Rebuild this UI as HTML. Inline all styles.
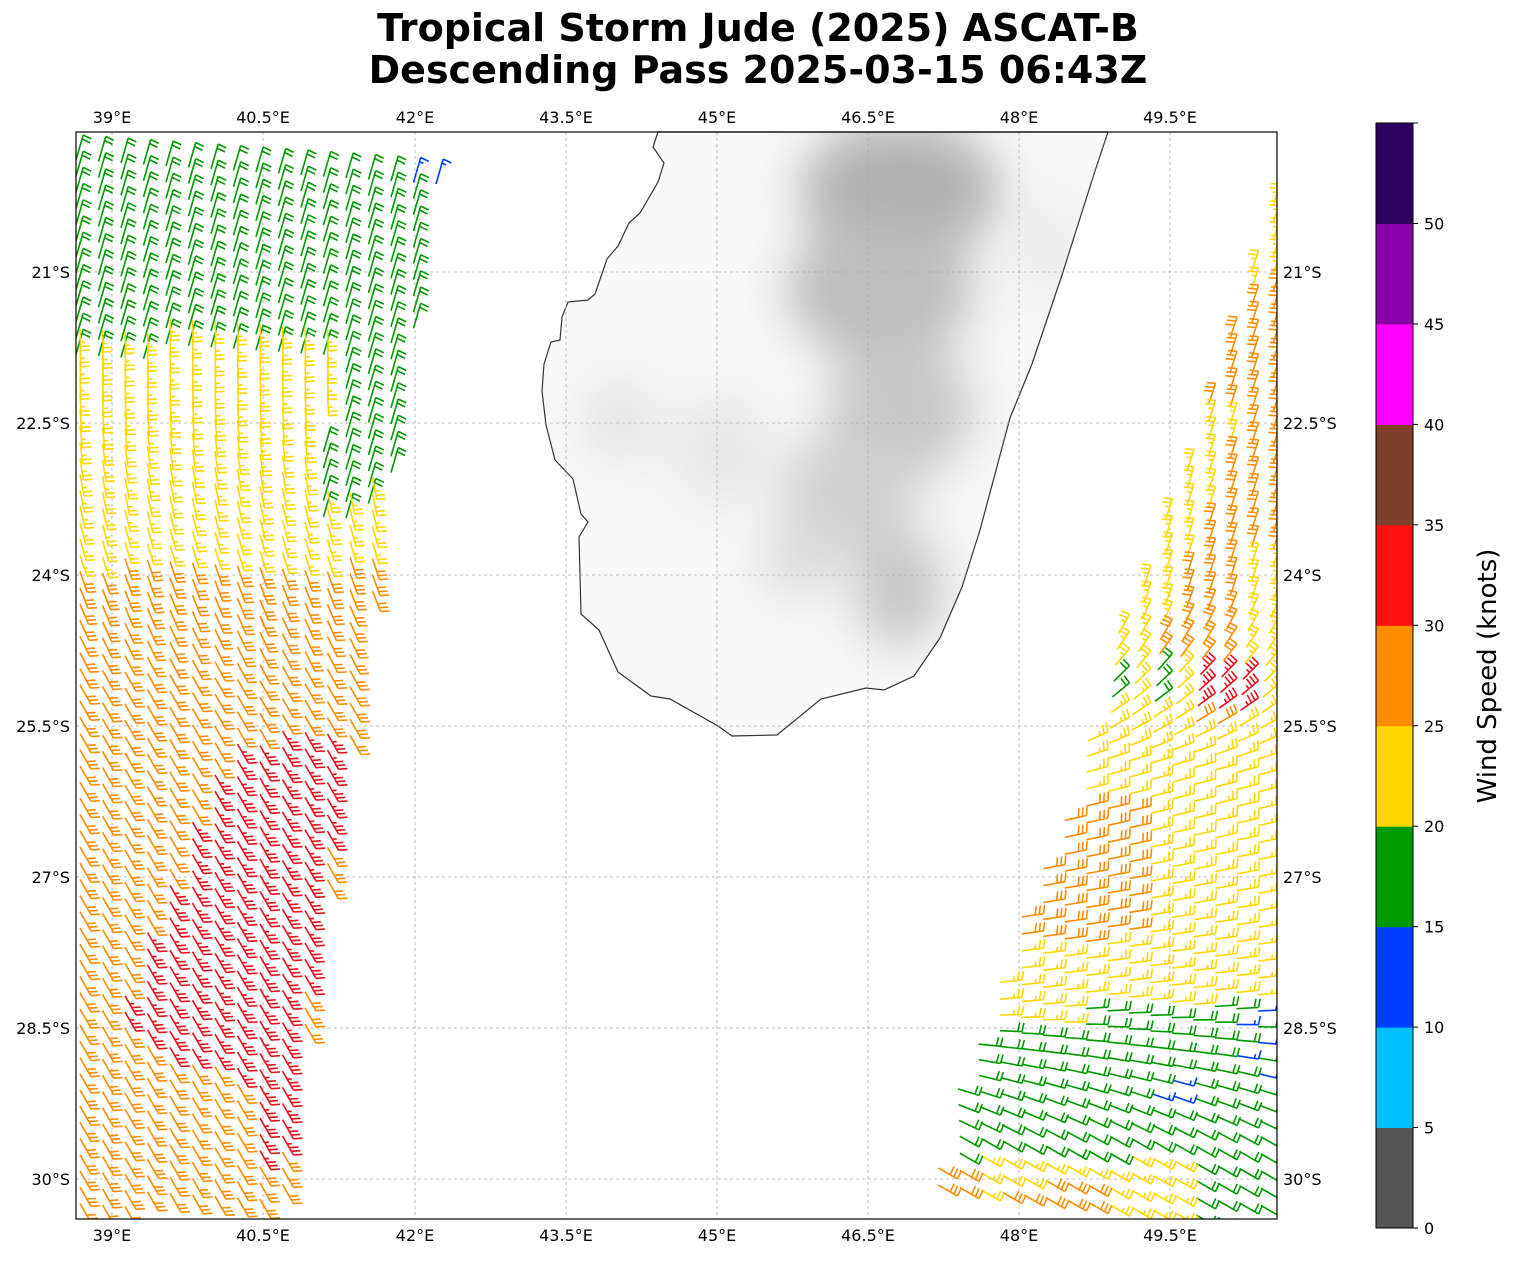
<!DOCTYPE html>
<html><head><meta charset="utf-8"><style>
html,body{margin:0;padding:0;background:#fff;}
svg text{font-family:"DejaVu Sans","Liberation Sans",sans-serif;}
</style></head><body>
<svg id="s" width="1513" height="1256" viewBox="0 0 1513 1256" xmlns="http://www.w3.org/2000/svg">
<defs>
<clipPath id="ax"><rect x="76" y="132" width="1201" height="1087"/></clipPath>
<clipPath id="mad"><path id="madp" d="M658,132 L653,147 L664,163 L658,182 L640,213 L629,223 L618,246 L607,259 L595,294 L588,300 L568,302 L562,317 L560,340 L551,342 L544,364 L542,391 L546,425 L555,460 L573,479 L581,514 L588,522 L579,537 L581,614 L599,630 L618,672 L651,696 L670,699 L718,726 L732,736 L777,735 L821,699 L866,688 L884,690 L914,676 L940,638 L962,587 L980,530 L1010,418 L1032,364 L1062,275 L1095,171 L1108,132 Z"/></clipPath>
<filter id="bl" x="-50%" y="-50%" width="200%" height="200%"><feGaussianBlur stdDeviation="25"/></filter>
</defs>
<text x="758" y="41" text-anchor="middle" font-size="38" font-weight="bold">Tropical Storm Jude (2025) ASCAT-B</text>
<text x="758" y="83" text-anchor="middle" font-size="38" font-weight="bold">Descending Pass 2025-03-15 06:43Z</text>
<g clip-path="url(#mad)">
<rect x="530" y="132" width="600" height="620" fill="#f9f9f9"/>
<g filter="url(#bl)">
<ellipse cx="900" cy="190" rx="100" ry="70" fill="#b0b0b0"/>
<ellipse cx="880" cy="290" rx="95" ry="70" fill="#bdbdbd"/>
<ellipse cx="900" cy="410" rx="75" ry="70" fill="#c8c8c8"/>
<ellipse cx="850" cy="490" rx="70" ry="60" fill="#d0d0d0"/>
<ellipse cx="900" cy="590" rx="45" ry="60" fill="#c6c6c6"/>
<ellipse cx="800" cy="560" rx="40" ry="40" fill="#dadada"/>
<ellipse cx="620" cy="420" rx="35" ry="45" fill="#e2e2e2"/>
<ellipse cx="720" cy="450" rx="50" ry="60" fill="#e6e6e6"/>
<ellipse cx="1050" cy="250" rx="40" ry="60" fill="#ececec"/>
</g>
</g>
<use href="#madp" fill="none" stroke="#333" stroke-width="1.2"/>
<g id="grid" stroke="#aaa" stroke-width="0.8" stroke-dasharray="3,3"></g>
<g id="barbs" clip-path="url(#ax)" fill="none" stroke-width="1.6" stroke-linecap="butt"></g>
<rect x="76" y="132" width="1201" height="1087" fill="none" stroke="#000" stroke-width="1.2"/>
<g id="labels" font-size="16"></g>
<g id="cb"></g>
<text transform="translate(1496,676) rotate(-90)" text-anchor="middle" font-size="26">Wind Speed (knots)</text>
</svg>
<script>
var NS="http://www.w3.org/2000/svg";
function el(p,t,a,txt){var e=document.createElementNS(NS,t);for(var k in a)e.setAttribute(k,a[k]);if(txt!=null)e.textContent=txt;p.appendChild(e);return e;}
var G=document.getElementById('grid'),L=document.getElementById('labels'),B=document.getElementById('barbs'),C=document.getElementById('cb');
var lons=[["39°E",112],["40.5°E",263],["42°E",415],["43.5°E",566],["45°E",717],["46.5°E",868],["48°E",1019],["49.5°E",1170]];
var lats=[["21°S",272],["22.5°S",423],["24°S",575],["25.5°S",726],["27°S",877],["28.5°S",1028],["30°S",1179]];
lons.forEach(function(l){el(G,'line',{x1:l[1],y1:132,x2:l[1],y2:1219});
 el(L,'text',{x:l[1],y:123,'text-anchor':'middle'},l[0]);el(L,'text',{x:l[1],y:1241,'text-anchor':'middle'},l[0]);});
lats.forEach(function(l){el(G,'line',{x1:76,y1:l[1],x2:1277,y2:l[1]});
 el(L,'text',{x:70,y:l[1]+6,'text-anchor':'end'},l[0]);el(L,'text',{x:1283,y:l[1]+6},l[0]);});
var cols=["#555555","#00bfff","#0040ff","#009900","#ffd700","#ff8c00","#ff1010","#7f3f2a","#ff00ff","#8800aa","#2b0060"];
var y0=1228,st=100.45;
for(var i=0;i<11;i++){var yt=y0-(i+1)*st;var h=st;if(i==10){yt=123;h=y0-10*st-123;}el(C,'rect',{x:1376,y:yt,width:37,height:h+0.5,fill:cols[i]});}
el(C,'rect',{x:1376,y:123,width:37,height:1105,fill:'none',stroke:'#000','stroke-width':1});
for(var i=0;i<=10;i++){var yy=y0-i*st;el(C,'line',{x1:1413,y1:yy,x2:1418,y2:yy,stroke:'#000'});el(C,'text',{x:1424,y:yy+6,'font-size':16},String(i*5));}
el(C,'line',{x1:1413,y1:123,x2:1418,y2:123,stroke:'#000'});
var CO={g:"#009900",y:"#ffd700",o:"#ff8c00",r:"#e8101a",b:"#0040ff"};
var NB={g:2,y:2.5,o:3,r:3.5,b:1.5};
function barb(x,y,da,boff,c,Ls){
 Ls=Ls||22;
 var a=da*Math.PI/180,dx=Math.cos(a),dy=Math.sin(a);var ba=(da+boff)*Math.PI/180,bx=Math.cos(ba),by=Math.sin(ba);
 var tx=x+Ls*dx,ty=y+Ls*dy;var d="M"+x.toFixed(1)+","+y.toFixed(1)+"L"+tx.toFixed(1)+","+ty.toFixed(1);
 var n=NB[c],k=0;while(n>0.01){var len=n>=1?9:4.5;var px=tx-k*4.2*dx,py=ty-k*4.2*dy;
 d+="M"+px.toFixed(1)+","+py.toFixed(1)+"l"+(len*bx).toFixed(1)+","+(len*by).toFixed(1);n-=1;k++;}
 el(B,'path',{d:d,stroke:CO[c]});}
function inPoly(x,y,p){var r=false;for(var i=0,j=p.length-1;i<p.length;j=i++){var xi=p[i][0],yi=p[i][1],xj=p[j][0],yj=p[j][1];if(((yi>y)!=(yj>y))&&(x<(xj-xi)*(y-yi)/(yj-yi)+xi))r=!r;}return r;}
var red=[[310,740],[350,760],[335,830],[318,900],[305,1000],[300,1080],[290,1170],[245,1170],[240,1090],[200,1070],[130,1060],[120,1030],[140,960],[170,890],[200,820],[230,760]];
for(var r=0;r<70;r++){for(var c=0;c<22;c++){
 var y=136+r*16.2+c*1.5, x=80+c*22.5;
 var xr=445-(y-135)*(165/1084);
 if(x>xr)continue; if(y>1225)continue;
 var col;
 if(y<335||(x>xr-75&&y<495)) col='g';
 else if(y<575) col='y';
 else if(inPoly(x,y,red)) col='r';
 else col='o';
 if(y<170&&x>405) col='b';
 if(col=='g'||col=='b'){barb(x-4,y+24,-74,100,col,26);}
 else{var t=Math.min(1,Math.max(0,(y-400)/300));var da=88-28*t;barb(x,y-18,da,-da-4,col);}
}}
function xl(y){var pts=[[160,1272],[400,1195],[600,1120],[700,1100],[800,1075],[900,1035],[970,1010],[1050,985],[1100,965],[1150,950],[1225,932]];
 if(y<=160)return 1300;for(var i=1;i<pts.length;i++){if(y<=pts[i][0]){var f=(y-pts[i-1][0])/(pts[i][0]-pts[i-1][0]);return pts[i-1][1]+f*(pts[i][1]-pts[i-1][1]);}}return 932;}
function lerp(a,b,t){return a+(b-a)*Math.max(0,Math.min(1,t));}
for(var r=0;r<64;r++){for(var c=0;c<18;c++){
 var y=150+r*17.2, x=1280-c*21.5; y-= c*2.5;
 if(x<xl(y)+12)continue; if(y>1230||y<150)continue;
 var col;
 if(y<400) col=(x>1255&&y<270)?'y':'o';
 else if(y<640) col=(x<xl(y)+55||(x>1250&&y>540))?'y':'o';
 else if(y<785){col='y';if(y>650&&y<700&&x>1195&&x<1260)col='r';else if((x>1200&&x<1240)&&y<720)col='o';else if(y>650&&y<690&&(x<1130||(x>1160&&x<1190)))col='g';}
 else if(y<940) col=(x<1160&&y>790)?'o':'y';
 else if(y<1005) col='y';
 else if(y<1165){col='g';if(x>1250&&y<1090&&(r+c)%2==0)col='b';if(x>1170&&x<1200&&y>1085&&y<1110)col='b';if(x<1100&&y<1030&&x>1000)col='y';}
 else {col=(x>1195)?'g':'y';if(x<1000||(y>1190&&x<1110&&x>1020))col='o';}
 var da,bo;
 if(y<580){da=-72;bo=-103;}
 else if(y<760){var t=(y-580)/180;da=lerp(-72,-15,t);bo=lerp(-103,-75,t);}
 else if(y<1000){var t=(y-760)/240;da=lerp(-15,-5,t);bo=-75;}
 else {var t=(y-1000)/150;da=lerp(-5,30,t);bo=lerp(-75,-95,t);}
 var a=da*Math.PI/180;barb(x-22*Math.cos(a),y-22*Math.sin(a),da,bo,col);
}}
</script>
</body></html>
